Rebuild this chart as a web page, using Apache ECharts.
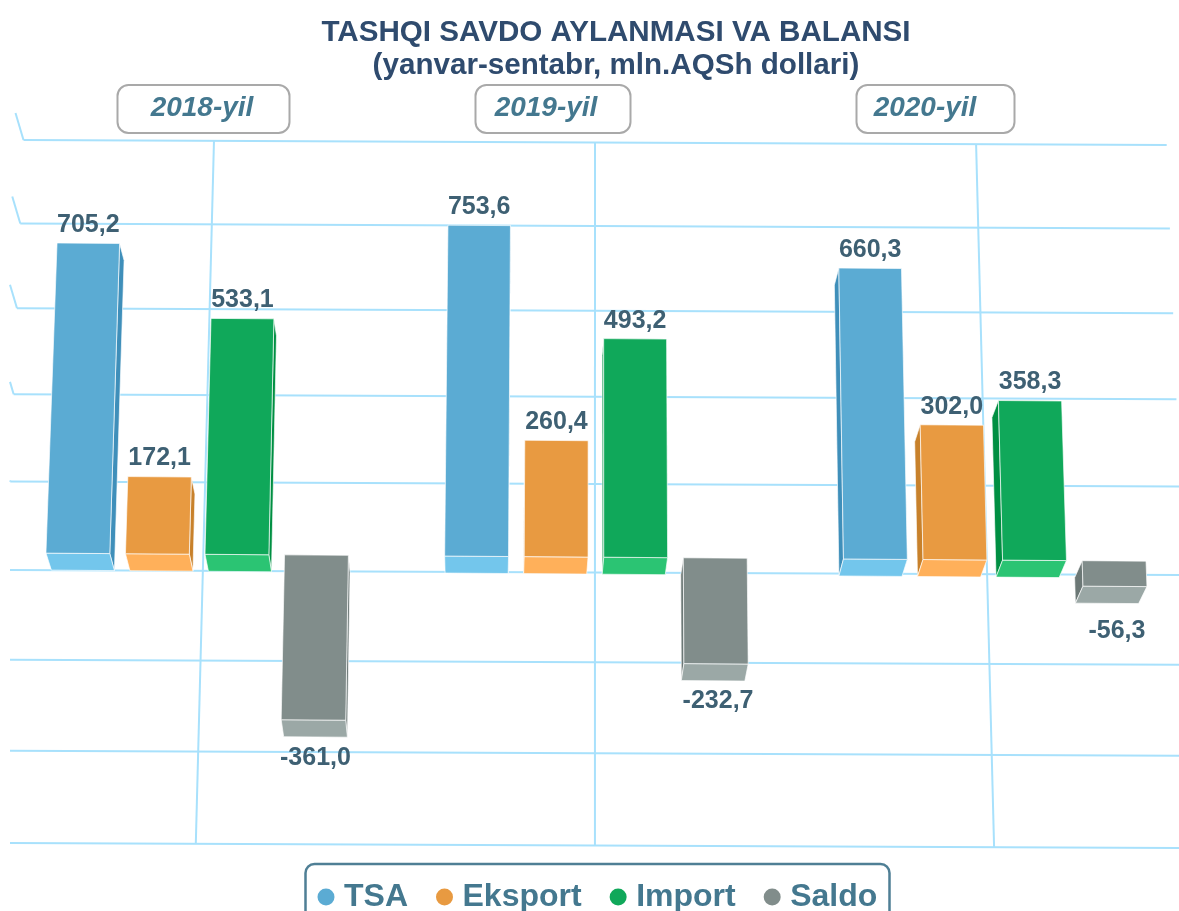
<!DOCTYPE html>
<html>
<head>
<meta charset="utf-8">
<title>Tashqi savdo</title>
<style>
  html, body { margin: 0; padding: 0; background: #fff; overflow: hidden; }
  #chart { width: 1179px; height: 911px; }
</style>
<script src="https://cdn.jsdelivr.net/npm/echarts@6/dist/echarts.min.js"></script>
</head>
<body>
<div id="chart"></div>
<script>
const years = ["2018-yil", "2019-yil", "2020-yil"];
const tsa = [705.2, 753.6, 660.3];
const eksport = [172.1, 260.4, 302.0];
const importData = [533.1, 493.2, 358.3];
const saldo = [-361.0, -232.7, -56.3];
const yTicks = [-600, -400, -200, 0, 200, 400, 600, 800, 1000];
const seriesNames = ["TSA", "Eksport", "Import", "Saldo"];

const font = '"Liberation Sans", Arial, sans-serif';
const gridColor = "#A8E1FC";
const labelColor = "#3E6073";
const gridTop = 140;
const gridBottom = 843;

// face colours: front, bottom, side
const boxColors = [
  ["#5BABD3", "#73C6EC", "#3F8FBA"],
  ["#E89A41", "#FFB05A", "#C8812B"],
  ["#10A85A", "#2BC473", "#008F42"],
  ["#818D8B", "#9BA8A6", "#6C7876"],
];

// the picture is a tilted 3D chart, so every axis point goes through these
function wall(p) {
  const y = p[1] + 8.1e-5 * (p[1] - gridTop) * (p[1] - gridBottom) + 0.0044 * (p[0] - 22);
  const x = 597 + (p[0] - 597) * (1 + (y - 140) * 0.0000675);
  return [x, y];
}
function front(p) {
  const w = wall(p);
  return [598 + (w[0] - 597) * 1.017, 553 + (w[1] - 570) * 1.012 + (w[0] - 80) * 0.0031];
}
function back(p) {
  return [p[0] + (480 - p[0]) * 0.0125, p[1] + 17];
}

function renderWallLine(params, api) {
  const cs = params.coordSys;
  const v = api.value(1);
  const py = api.coord([0, v])[1];
  const a = wall([cs.x, py]);
  const b = wall([cs.x + cs.width, py]);
  const children = [];
  if (a[0] < 10) {
    a[1] += ((10 - a[0]) * (b[1] - a[1])) / (b[0] - a[0]);
    a[0] = 10;
  }
  children.push({
    type: "line",
    shape: { x1: a[0], y1: a[1], x2: b[0], y2: b[1] },
    style: { stroke: gridColor, lineWidth: 2 },
  });
  if (v > 0 && a[0] > 10) {
    const t = Math.min(1, (a[0] - 10) / 8);
    children.push({
      type: "line",
      shape: { x1: a[0], y1: a[1], x2: a[0] - 8 * t, y2: a[1] - 27 * t },
      style: { stroke: gridColor, lineWidth: 2 },
    });
  }
  return { type: "group", children: children };
}

function renderCatLine(params, api) {
  const c = api.value(0);
  const a = wall(api.coord([c, yTicks[yTicks.length - 1]]));
  const b = wall(api.coord([c, yTicks[0]]));
  return {
    type: "line",
    shape: { x1: a[0], y1: a[1], x2: b[0], y2: b[1] },
    style: { stroke: gridColor, lineWidth: 2 },
  };
}

function polygon(points, fill) {
  return {
    type: "polygon",
    shape: { points: points },
    style: { fill: fill, stroke: "rgba(255,255,255,0.65)", lineWidth: 1 },
  };
}

function renderBox(index) {
  return function (params, api) {
    const value = api.value(1);
    const base = api.coord([api.value(0), 0]);
    const end = api.coord([api.value(0), value]);
    const cx = base[0] + (index - 1.5) * 76;
    const hw = 30.5;
    const high = Math.min(base[1], end[1]);
    const low = Math.max(base[1], end[1]);
    const tl = front([cx - hw, high]);
    const tr = front([cx + hw, high]);
    const bl = front([cx - hw, low]);
    const br = front([cx + hw, low]);
    const colors = boxColors[index];

    // side on the right left of the middle, on the left right of it
    const mid = (bl[0] + br[0]) / 2;
    const sideTop = mid < 480 ? tr : tl;
    const sideBottom = mid < 480 ? br : bl;
    const children = [
      polygon([sideTop, back(sideTop), back(sideBottom), sideBottom], colors[2]),
      polygon([bl, br, back(br), back(bl)], colors[1]),
      polygon([tl, tr, br, bl], colors[0]),
    ];

    // the short negative box has its label a bit lower
    const below = value > -100 ? 45 : 38;
    const labelAt = value >= 0
      ? [(tl[0] + tr[0]) / 2, tl[1] - 18]
      : [(bl[0] + br[0]) / 2 + 2, bl[1] + below];
    children.push({
      type: "text",
      style: {
        x: labelAt[0],
        y: labelAt[1],
        text: value.toFixed(1).replace(".", ","),
        fill: labelColor,
        fontFamily: font,
        fontSize: 25,
        fontWeight: "bold",
        textAlign: "center",
        verticalAlign: "middle",
      },
    });
    return { type: "group", children: children };
  };
}

function yearBox(i, left, width, textX) {
  return [
    {
      type: "rect",
      shape: { x: left, y: 85, width: width, height: 48, r: 11 },
      style: { fill: "#fff", stroke: "#A9A9A9", lineWidth: 2 },
      z: 20,
    },
    {
      type: "text",
      style: {
        x: textX,
        y: 108,
        text: years[i],
        fill: "#44788F",
        fontFamily: font,
        fontSize: 28,
        fontWeight: "bold",
        fontStyle: "italic",
        textAlign: "center",
        verticalAlign: "middle",
      },
      z: 21,
    },
  ];
}

const myChart = echarts.init(document.getElementById("chart"));
const values = [tsa, eksport, importData, saldo];

const option = {
  animation: false,
  backgroundColor: "#fff",
  title: {
    text: "TASHQI SAVDO AYLANMASI VA BALANSI\n(yanvar-sentabr, mln.AQSh dollari)",
    left: 616,
    top: 16,
    textAlign: "center",
    padding: 0,
    textStyle: {
      color: "#2F4B6E",
      fontFamily: font,
      fontSize: 29.6,
      fontWeight: "bold",
      lineHeight: 33,
    },
  },
  grid: { left: 23.5, right: 12.5, top: gridTop, bottom: 911 - gridBottom },
  xAxis: { type: "category", data: years, show: false },
  yAxis: { type: "value", min: -600, max: 1000, interval: 200, show: false },
  legend: {
    data: seriesNames,
    left: 317.5,
    top: 881,
    padding: 0,
    icon: "circle",
    itemWidth: 26,
    itemHeight: 17,
    itemGap: 28,
    selectedMode: false,
    textStyle: {
      color: "#44788F",
      fontFamily: font,
      fontSize: 32,
      fontWeight: "bold",
      padding: [0, 0, 0, 0],
    },
  },
  graphic: [
    {
      type: "rect",
      shape: { x: 305.5, y: 864, width: 584, height: 70, r: 9 },
      style: { fill: "none", stroke: "#4F7F95", lineWidth: 2.5 },
    },
    ...yearBox(0, 117.5, 172, 202),
    ...yearBox(1, 475.5, 155, 546),
    ...yearBox(2, 856.5, 158, 925),
  ],
  series: [
    {
      type: "custom",
      silent: true,
      renderItem: renderWallLine,
      data: yTicks.map((v) => [0, v]),
      z: 1,
    },
    {
      type: "custom",
      silent: true,
      renderItem: renderCatLine,
      data: years.map((y, i) => [i, 0]),
      z: 1,
    },
    ...seriesNames.map((name, i) => ({
      name: name,
      type: "custom",
      renderItem: renderBox(i),
      itemStyle: { color: boxColors[i][0] },
      data: values[i].map((v, j) => [j, v]),
      z: 5,
    })),
  ],
};
myChart.setOption(option);
window.onresize = function () {
  myChart.resize();
};
</script>
</body>
</html>
